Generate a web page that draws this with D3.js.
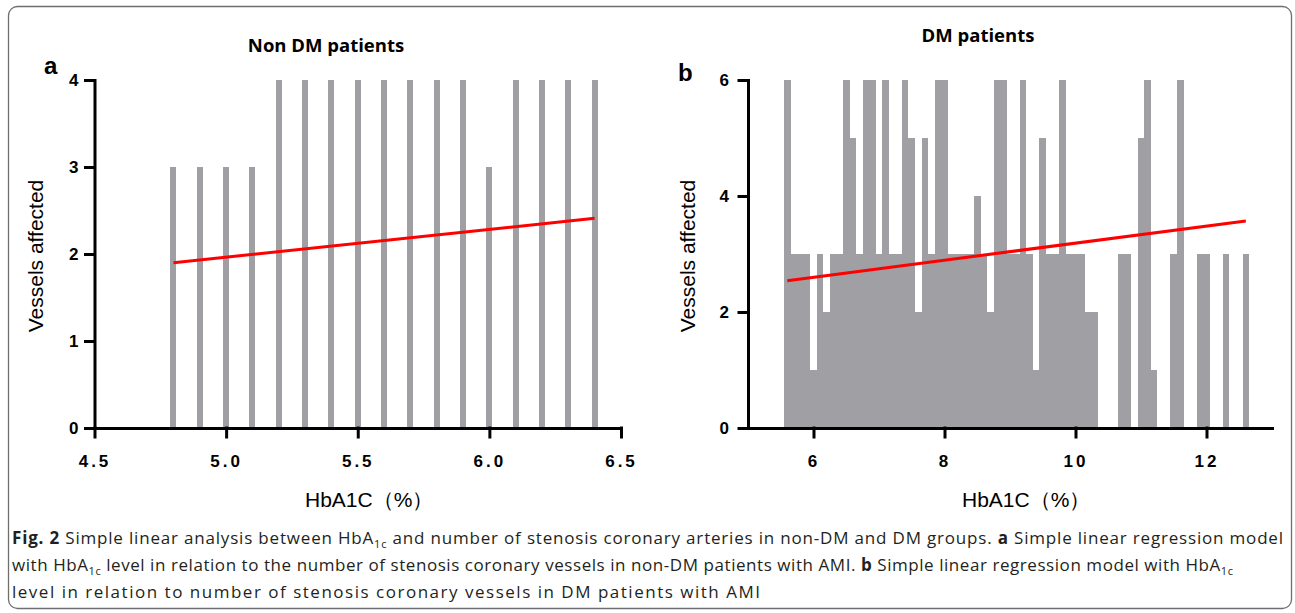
<!DOCTYPE html>
<html>
<head>
<meta charset="utf-8">
<script src="https://cdn.jsdelivr.net/npm/d3@7"></script>
<style>
  body { margin: 0; background: #fff; }
  .tick text { font-family: "Liberation Sans", Arial, sans-serif; font-weight: bold; fill: #000; }
</style>
</head>
<body>
<div class="canvas"></div>
<script>
// Panel a: non-DM patients, one bar per HbA1c value
const aX = [4.8, 4.9, 5.0, 5.1, 5.2, 5.3, 5.4, 5.5, 5.6, 5.7, 5.8, 5.9, 6.0, 6.1, 6.2, 6.3, 6.4];
const aY = [3, 3, 3, 3, 4, 4, 4, 4, 4, 4, 4, 4, 3, 4, 4, 4, 4];
const aFitX = [4.8, 6.4];
const aFitY = [1.90, 2.41];
const aXTicks = [4.5, 5.0, 5.5, 6.0, 6.5];
const aYTicks = [0, 1, 2, 3, 4];

// Panel b: DM patients
const bX = [5.6, 5.7, 5.8, 5.9, 6.0, 6.1, 6.2, 6.3, 6.4, 6.5, 6.6, 6.7, 6.8, 6.9, 7.0, 7.1, 7.2, 7.3, 7.4, 7.5,
            7.6, 7.7, 7.8, 7.9, 8.0, 8.1, 8.2, 8.3, 8.4, 8.5, 8.6, 8.7, 8.8, 8.9, 9.0, 9.1, 9.2, 9.3, 9.4, 9.5,
            9.6, 9.7, 9.8, 9.9, 10.0, 10.1, 10.2, 10.3, 10.7, 10.8, 11.0, 11.1, 11.2, 11.5, 11.6, 11.9, 12.0, 12.3, 12.6];
const bY = [6, 3, 3, 3, 1, 3, 2, 3, 3, 6, 5, 3, 6, 6, 3, 6, 3, 3, 6, 5,
            2, 5, 3, 6, 6, 3, 3, 3, 3, 4, 3, 2, 6, 6, 3, 3, 6, 3, 1, 5,
            3, 3, 6, 3, 3, 3, 2, 2, 3, 3, 5, 6, 1, 3, 6, 3, 3, 3, 3];
const bFitX = [5.6, 12.6];
const bFitY = [2.54, 3.57];
const bXTicks = [6, 8, 10, 12];
const bYTicks = [0, 2, 4, 6];

const barColor = '#a09fa4';
const fitColor = '#ff0000';

//1. SVG
const svg = d3.select('.canvas')
    .append('svg')
    .attr('width', 1295)
    .attr('height', 613);

// figure frame
svg.append('rect')
    .attr('x', 8.5).attr('y', 6.5)
    .attr('width', 1283).attr('height', 602)
    .attr('rx', 9)
    .attr('fill', 'none')
    .attr('stroke', '#6e6e6e')
    .attr('stroke-width', 1.3);

//2. one panel
const drawPanel = (p) => {
    const x = d3.scaleLinear().domain(p.xDomain).range(p.xRange);
    const y = d3.scaleLinear().domain(p.yDomain).range([428, 80]);
    const g = svg.append('g');

    // bars
    g.selectAll('rect.bar').data(p.xs).join('rect')
        .attr('class', 'bar')
        .attr('x', (d) => p.barW ? x(d) - p.barW / 2 : x(d - 0.05))
        .attr('width', (d) => p.barW ? p.barW : x(d + 0.05) - x(d - 0.05))
        .attr('y', (d, i) => y(p.ys[i]))
        .attr('height', (d, i) => y(0) - y(p.ys[i]))
        .attr('fill', barColor)
        .attr('shape-rendering', 'crispEdges');

    // regression line
    g.append('line')
        .attr('x1', x(p.fitX[0])).attr('y1', y(p.fitY[0]))
        .attr('x2', x(p.fitX[1])).attr('y2', y(p.fitY[1]))
        .attr('stroke', fitColor)
        .attr('stroke-width', 3);

    // axes
    const xAxis = g.append('g')
        .attr('transform', 'translate(0,428)')
        .call(d3.axisBottom(x).tickValues(p.xTicks).tickFormat(p.xFmt).tickSize(9).tickSizeOuter(0).tickPadding(18));
    xAxis.selectAll('text').style('font-size', '17px').style('letter-spacing', '3px');

    const yAxis = g.append('g')
        .attr('transform', `translate(${p.xRange[0]},0)`)
        .call(d3.axisLeft(y).tickValues(p.yTicks).tickFormat(d3.format('d')).tickSize(9).tickSizeOuter(0).tickPadding(p.yPad));
    yAxis.selectAll('text').style('font-size', '17px');

    g.selectAll('.domain, .tick line')
        .attr('stroke', '#000')
        .attr('stroke-width', 3)
        .attr('stroke-linecap', 'square');

    // titles
    g.append('text')
        .attr('x', p.titleX).attr('y', p.titleY)
        .attr('text-anchor', 'middle')
        .style('font-family', '"Open Sans", sans-serif')
        .style('font-weight', 'bold')
        .style('font-size', '18.5px')
        .text(p.title);

    g.append('text')
        .attr('x', p.letterX).attr('y', p.letterY)
        .style('font-family', '"Liberation Sans", Arial, sans-serif')
        .style('font-weight', 'bold')
        .style('font-size', '24px')
        .text(p.letter);

    g.append('text')
        .attr('transform', `translate(${p.yTitleX},256) rotate(-90)`)
        .attr('text-anchor', 'middle')
        .style('font-family', '"Liberation Sans", Arial, sans-serif')
        .style('font-size', '21px')
        .text('Vessels affected');

    g.append('text')
        .attr('x', p.xTitleX).attr('y', 507)
        .style('font-family', '"Liberation Sans", Arial, sans-serif')
        .style('font-size', '21px')
        .text('HbA1C（%）');
};

drawPanel({
    xs: aX, ys: aY, fitX: aFitX, fitY: aFitY,
    xDomain: [4.5, 6.5], xRange: [94.5, 621], yDomain: [0, 4],
    xTicks: aXTicks, yTicks: aYTicks, xFmt: d3.format('.1f'), yPad: 7,
    barW: 6,
    title: 'Non DM patients', titleX: 326, titleY: 52,
    letter: 'a', letterX: 44, letterY: 74,
    yTitleX: 43, xTitleX: 305
});

drawPanel({
    xs: bX, ys: bY, fitX: bFitX, fitY: bFitY,
    xDomain: [5, 13], xRange: [748, 1272], yDomain: [0, 6],
    xTicks: bXTicks, yTicks: bYTicks, xFmt: d3.format('d'), yPad: 10,
    barW: 0,
    title: 'DM patients', titleX: 978, titleY: 42,
    letter: 'b', letterX: 678, letterY: 81,
    yTitleX: 695, xTitleX: 962
});

//3. caption
const capFont = '"Open Sans", sans-serif';
const caption = [
    {y: 544, len: 1271, parts: [
        {t: 'Fig. 2', b: true}, {t: '  Simple linear analysis between HbA'}, {t: '1c', sub: true},
        {t: ' and number of stenosis coronary arteries in non-DM and DM groups. '}, {t: 'a', b: true},
        {t: ' Simple linear regression model'}]},
    {y: 571, len: 1221, parts: [
        {t: 'with HbA'}, {t: '1c', sub: true},
        {t: ' level in relation to the number of stenosis coronary vessels in non-DM patients with AMI. '},
        {t: 'b', b: true}, {t: ' Simple linear regression model with HbA'}, {t: '1c', sub: true}]},
    {y: 598, len: 748, parts: [
        {t: 'level in relation to number of stenosis coronary vessels in DM patients with AMI'}]}
];

caption.forEach((line) => {
    const t = svg.append('text')
        .attr('x', 12).attr('y', line.y)
        .attr('textLength', line.len)
        .attr('lengthAdjust', 'spacing')
        .style('font-family', capFont)
        .style('font-size', '17px')
        .attr('fill', '#231f20');
    let shifted = false;
    line.parts.forEach((p) => {
        const s = t.append('tspan').text(p.t);
        if (p.b) s.style('font-weight', 'bold');
        if (p.sub) {
            s.style('font-size', '11px').attr('dy', 4);
            shifted = true;
        } else if (shifted) {
            s.attr('dy', -4);
            shifted = false;
        }
    });
});
</script>
</body>
</html>
